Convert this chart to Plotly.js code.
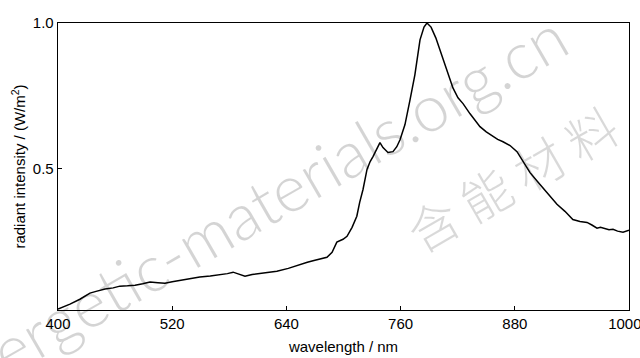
<!DOCTYPE html>
<html>
<head>
<meta charset="utf-8">
<script src="https://cdn.plot.ly/plotly-3.0.1.min.js"></script>
<style>html,body{margin:0;padding:0;background:#fff}#chart{width:640px;height:358px}</style>
</head>
<body>
<div id="chart"></div>
<script>
const wavelength = [400, 412.6, 423, 433.6, 440, 449.4, 458, 465, 473, 481, 489, 496.7, 505, 512.4, 520, 528, 538, 549, 560, 570, 578, 584, 590, 596.5, 604, 612, 621, 630, 642, 654, 662, 670, 677, 682.6, 688, 693, 699.5, 703.7, 709, 714, 717, 720.5, 724.7, 728, 731, 735, 738.3, 741.5, 746.7, 752, 756, 759.4, 764.6, 769.9, 775, 780.4, 784.6, 787.7, 792, 797, 801.4, 807.7, 815, 820.3, 825.6, 833, 838, 843.4, 850, 857, 862, 867.6, 875, 882.3, 888.6, 896, 906.5, 913.8, 918, 924.3, 932.7, 941, 948.5, 955.9, 961, 966.4, 970, 974.8, 979, 983.2, 988, 993.7, 997, 1000];
const intensity = [0.017, 0.034, 0.051, 0.072, 0.078, 0.086, 0.090, 0.096, 0.097, 0.099, 0.104, 0.110, 0.108, 0.106, 0.111, 0.116, 0.120, 0.127, 0.131, 0.134, 0.139, 0.144, 0.138, 0.130, 0.136, 0.140, 0.143, 0.147, 0.157, 0.171, 0.178, 0.185, 0.190, 0.195, 0.212, 0.247, 0.257, 0.267, 0.298, 0.336, 0.384, 0.428, 0.497, 0.524, 0.541, 0.565, 0.589, 0.572, 0.555, 0.558, 0.575, 0.599, 0.651, 0.736, 0.822, 0.942, 0.986, 1.0, 0.986, 0.949, 0.908, 0.846, 0.777, 0.743, 0.723, 0.688, 0.666, 0.644, 0.626, 0.610, 0.600, 0.592, 0.579, 0.558, 0.524, 0.486, 0.445, 0.418, 0.400, 0.377, 0.353, 0.325, 0.318, 0.315, 0.306, 0.295, 0.298, 0.295, 0.290, 0.291, 0.285, 0.281, 0.286, 0.288];
const xTicks = [400, 520, 640, 760, 880, 1000];
const xTickText = ['400', '520', '640', '760', '880', '1000\u00a0\u00a0'];
const yTicks = [0.5, 1.0];
const yTickText = ['0.5', '1.0'];
const xTitle = 'wavelength / nm';
const yTitle = 'radiant intensity / (W/m<sup>2</sup>)';
const watermarkEn = 'energetic-materials.org.cn';
const watermarkZh = '含 能 材 料';

const FONT = 'Liberation Sans, Arial, sans-serif';
const trace = {
  x: wavelength, y: intensity, type: 'scatter', mode: 'lines',
  line: {color: '#000', width: 1.5}, hoverinfo: 'skip'
};
const axisCommon = {
  showline: true, mirror: true, linecolor: '#000', linewidth: 1.3,
  ticks: 'inside', ticklen: 4, tickwidth: 1, tickcolor: '#000',
  showgrid: false, zeroline: false, ticklabeloverflow: 'allow',
  tickfont: {family: FONT, size: 15, color: '#000'}
};
const layout = {
  width: 640, height: 358,
  margin: {l: 58, r: 11, t: 23, b: 48},
  paper_bgcolor: '#fff', plot_bgcolor: '#fff',
  showlegend: false,
  xaxis: Object.assign({}, axisCommon, {
    range: [400, 1000], tickmode: 'array', tickvals: xTicks, ticktext: xTickText,
    title: {text: xTitle, standoff: 10, font: {family: FONT, size: 15, color: '#000'}}
  }),
  yaxis: Object.assign({}, axisCommon, {
    range: [0.014, 1.0], tickmode: 'array', tickvals: yTicks, ticktext: yTickText,
    title: {text: yTitle, standoff: 3, font: {family: FONT, size: 15, color: '#000'}}
  }),
  annotations: [
    {text: watermarkEn, xref: 'paper', yref: 'paper', x: 0.333, y: 0.348, xanchor: 'center', yanchor: 'middle', showarrow: false,
     textangle: -30, font: {family: 'Lato, Open Sans, sans-serif', size: 65, weight: 300, color: 'rgba(0,0,0,0.17)'}},
    {text: watermarkZh, xref: 'paper', yref: 'paper', x: 0.795, y: 0.462, xanchor: 'center', yanchor: 'middle', showarrow: false,
     textangle: -30, font: {family: 'Noto Sans CJK SC, sans-serif', size: 50, weight: 300, color: 'rgba(0,0,0,0.15)'}}
  ]
};
Plotly.newPlot('chart', [trace], layout, {staticPlot: true, displayModeBar: false});
</script>
</body>
</html>
